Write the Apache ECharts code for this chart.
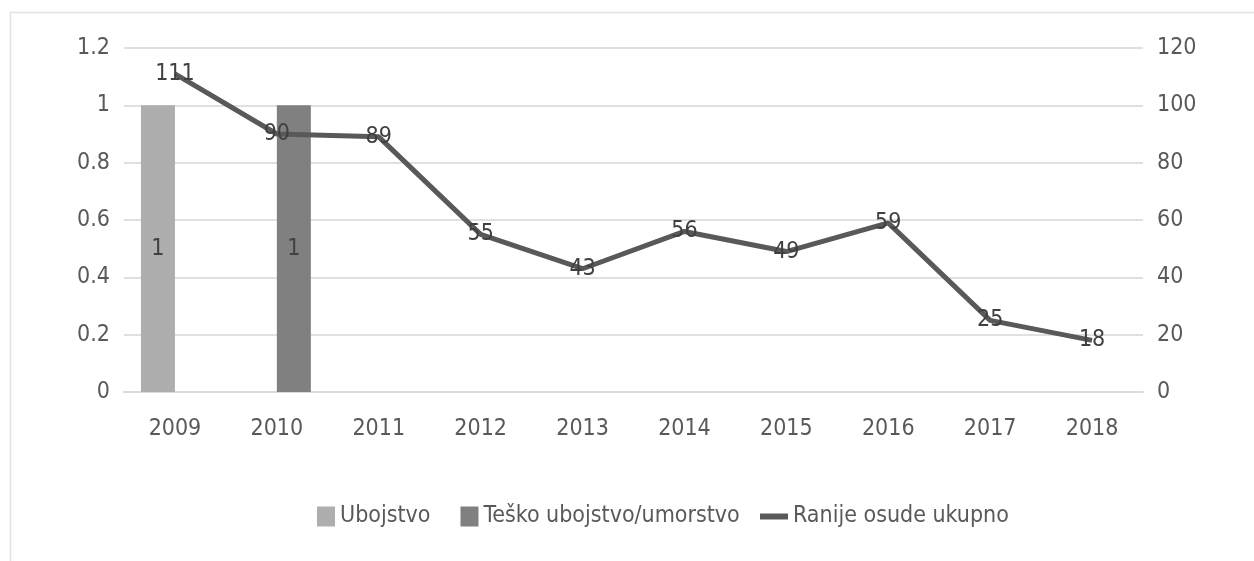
<!DOCTYPE html>
<html>
<head>
<meta charset="utf-8">
<script src="https://cdn.jsdelivr.net/npm/echarts@6/dist/echarts.min.js"></script>
<style>
html,body{margin:0;padding:0;background:#fff;}
#c{width:1254px;height:561px;}
</style>
</head>
<body>
<div id="c"></div>
<script>
const categories = ['2009','2010','2011','2012','2013','2014','2015','2016','2017','2018'];
const ubojstvo = [1, '-', '-', '-', '-', '-', '-', '-', '-', '-'];
const teskoUbojstvo = ['-', 1, '-', '-', '-', '-', '-', '-', '-', '-'];
const ranijeOsude = [111, 90, 89, 55, 43, 56, 49, 59, 25, 18];
const leftTicks = {min: 0, max: 1.2, interval: 0.2};
const rightTicks = {min: 0, max: 120, interval: 20};

const FONT = '"Liberation Sans Narrow", "DejaVu Sans Condensed", sans-serif';
const FS = 23;
const TXT = '#595959';
const chart = echarts.init(document.getElementById('c'));
chart.setOption({
  backgroundColor: '#fff',
  animation: false,
  textStyle: {fontFamily: FONT},
  graphic: [{
    type: 'rect', silent: true, z: -1,
    shape: {x: 10.5, y: 12.5, width: 1400, height: 700},
    style: {fill: 'none', stroke: '#e2e2e2', lineWidth: 1.5}
  }],
  grid: {left: 124, right: 111, top: 48, bottom: 169, containLabel: false},
  legend: [{
    left: 312, top: 500,
    itemWidth: 18, itemHeight: 20, itemGap: 30,
    textStyle: {fontFamily: FONT, fontSize: FS, color: TXT},
    data: [{name: 'Ubojstvo', icon: 'rect'}, {name: 'Teško ubojstvo/umorstvo', icon: 'rect'}]
  }, {
    left: 755, top: 500,
    itemWidth: 28, itemHeight: 6,
    textStyle: {fontFamily: FONT, fontSize: FS, color: TXT},
    data: [{name: 'Ranije osude ukupno', icon: 'rect', itemStyle: {color: '#595959'}}]
  }],
  xAxis: {
    type: 'category', data: categories,
    axisLine: {lineStyle: {color: '#dcdcdc', width: 2}},
    axisTick: {show: false},
    axisLabel: {color: TXT, fontSize: FS, fontFamily: FONT, margin: 26}
  },
  yAxis: [{
    type: 'value', min: leftTicks.min, max: leftTicks.max, interval: leftTicks.interval,
    axisLine: {show: false}, axisTick: {show: false},
    axisLabel: {color: TXT, fontSize: FS, fontFamily: FONT, margin: 14,
      formatter: v => String(+v.toFixed(1))},
    splitLine: {lineStyle: {color: '#e0e0e0', width: 2}}
  }, {
    type: 'value', min: rightTicks.min, max: rightTicks.max, interval: rightTicks.interval,
    axisLine: {show: false}, axisTick: {show: false},
    axisLabel: {color: TXT, fontSize: FS, fontFamily: FONT, margin: 14},
    splitLine: {show: false}
  }],
  series: [{
    name: 'Ubojstvo', type: 'bar', yAxisIndex: 0, data: ubojstvo,
    barWidth: 34, barGap: '0%',
    itemStyle: {color: '#aeaeae'},
    label: {show: true, position: 'inside', color: '#404040', fontSize: FS, fontFamily: FONT}
  }, {
    name: 'Teško ubojstvo/umorstvo', type: 'bar', yAxisIndex: 0, data: teskoUbojstvo,
    barWidth: 34, barGap: '0%',
    itemStyle: {color: '#808080'},
    label: {show: true, position: 'inside', color: '#404040', fontSize: FS, fontFamily: FONT}
  }, {
    name: 'Ranije osude ukupno', type: 'line', yAxisIndex: 1, data: ranijeOsude,
    symbol: 'circle', symbolSize: 0.1, showSymbol: true,
    itemStyle: {color: '#595959'},
    lineStyle: {color: '#595959', width: 5},
    label: {show: true, position: 'inside', color: '#404040', fontSize: FS, fontFamily: FONT},
    z: 3
  }]
});
</script>
</body>
</html>
